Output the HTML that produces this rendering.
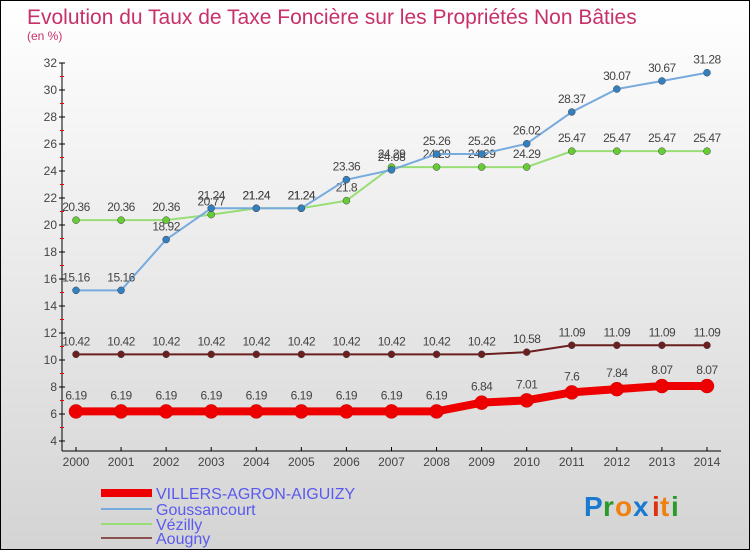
<!DOCTYPE html>
<html><head><meta charset="utf-8"><style>
body{margin:0}
#c{width:748px;height:548px;border:1px solid #000;background:linear-gradient(#fff,#d4d4d4);position:relative;font-family:"Liberation Sans",sans-serif;overflow:hidden}
</style></head><body>
<div id="c">
<svg id="s" width="748" height="548" xmlns="http://www.w3.org/2000/svg">
<text x="26" y="23" font-size="21" fill="#c8306a">Evolution du Taux de Taxe Foncière sur les Propriétés Non Bâties</text>
<text x="26" y="39" font-size="12" fill="#c8306a">(en %)</text>
<g id="axes"></g><g id="series"></g><g id="legend"></g>
<g font-size="28" font-family="Liberation Sans,sans-serif" font-weight="bold">
<text x="583" y="515" fill="#1a7ad0">P</text><text x="602" y="515" fill="#2a9a2a">r</text><text x="614" y="515" fill="#f08010">o</text><text x="632" y="515" fill="#1a7ad0">x</text><text x="651" y="515" fill="#e03010">i</text><text x="659" y="515" fill="#f08010">t</text><text x="670" y="515" fill="#2a9a2a">i</text>
</g>
</svg>
</div>
<script>
const years=[2000,2001,2002,2003,2004,2005,2006,2007,2008,2009,2010,2011,2012,2013,2014];
const yTicks=[4,6,8,10,12,14,16,18,20,22,24,26,28,30,32];
const villers=[6.19,6.19,6.19,6.19,6.19,6.19,6.19,6.19,6.19,6.84,7.01,7.6,7.84,8.07,8.07];
const gouss=[15.16,15.16,18.92,21.24,21.24,21.24,23.36,24.08,25.26,25.26,26.02,28.37,30.07,30.67,31.28];
const vezilly=[20.36,20.36,20.36,20.77,21.24,21.24,21.8,24.29,24.29,24.29,24.29,25.47,25.47,25.47,25.47];
const aougny=[10.42,10.42,10.42,10.42,10.42,10.42,10.42,10.42,10.42,10.42,10.58,11.09,11.09,11.09,11.09];
const NS="http://www.w3.org/2000/svg";
const X=i=>75+i*45.07, Y=v=>413-(v-6)*13.5;
function mk(t,a,p){const e=document.createElementNS(NS,t);for(const k in a)e.setAttribute(k,a[k]);p.appendChild(e);return e;}
const ax=document.getElementById('axes');
let l=mk('line',{x1:61,y1:Y(32),x2:61,y2:Y(4)+10,stroke:'#000'},ax);

l=mk('line',{x1:61,y1:450,x2:720,y2:450,stroke:'#000'},ax);

yTicks.forEach(v=>{mk('line',{x1:58,x2:64,y1:Y(v),y2:Y(v),stroke:'#000'},ax);
 if(v<32)mk('line',{x1:59,x2:63,y1:Y(v+1),y2:Y(v+1),stroke:'#e00'},ax);
 const t=mk('text',{x:56,y:Y(v)+4,'text-anchor':'end','font-size':12,fill:'#444'},ax);t.textContent=v;
 });
years.forEach((y,i)=>{mk('line',{x1:X(i),x2:X(i),y1:446,y2:450,stroke:'#000'},ax);
 const t=mk('text',{x:X(i),y:465,'text-anchor':'middle','font-size':12,fill:'#444'},ax);t.textContent=y;
 });
const sg=document.getElementById('series');
const defs=[[aougny,'#6b1f1f','#6b1f1f',2,3.5,'aougny'],[vezilly,'#99dd77','#66cc33',2,3.5,'vezilly'],[gouss,'#77aadd','#3380c0',2,3.5,'goussancourt'],[villers,'#ee0000','#ee0000',8,7,'villers-agron-aiguizy']];
defs.forEach(([d,lc,mc,w,r,n])=>{
 const g=mk('g',{},sg);
 
 const p=mk('polyline',{points:d.map((v,i)=>X(i)+','+Y(v)).join(' '),fill:'none',stroke:lc,'stroke-width':w},g);
 
 d.forEach((v,i)=>{const c=mk('circle',{cx:X(i),cy:Y(v),r:r,fill:mc,stroke:r>5?'#c00':'#444','stroke-width':0.5},g);
  
  const t=mk('text',{x:X(i),y:Y(v)-(r>5?12:9),'text-anchor':'middle','font-size':12,fill:'#444','letter-spacing':'-0.5'},g);t.textContent=v;
  });
});
const lg=document.getElementById('legend');
[['VILLERS-AGRON-AIGUIZY','#ee0000',8,492],['Goussancourt','#77aadd',2,508],['Vézilly','#99dd77',2,523],['Aougny','#8b5050',2,537]].forEach(([n,c,w,y])=>{
 const g=mk('g',{},lg);
 
 mk('line',{x1:100,x2:151,y1:y,y2:y,stroke:c,'stroke-width':w},g);
 const t=mk('text',{x:155,y:y+6,'font-size':16,fill:'#5a5aee'},g);t.textContent=n;});
</script>
</body></html>
